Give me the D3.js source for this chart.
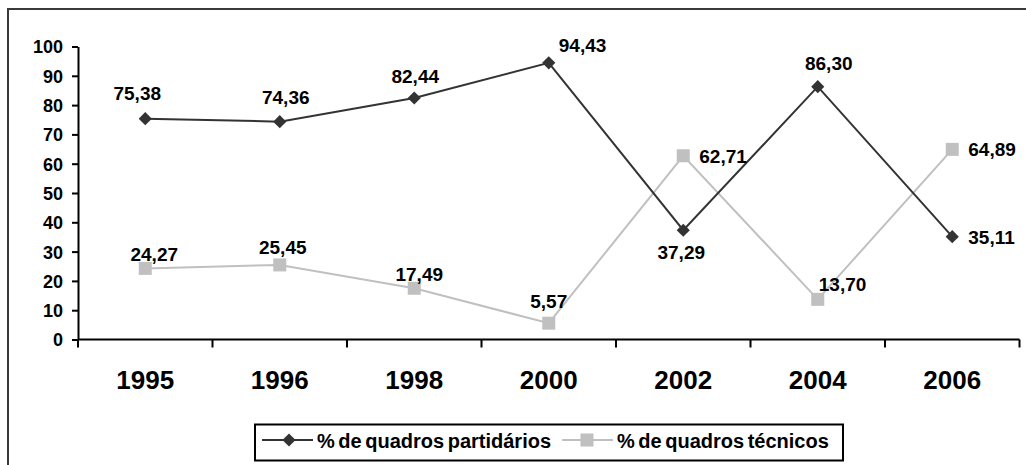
<!DOCTYPE html>
<html lang="pt">
<head>
    <meta charset="utf-8">
    <title>Quadros partidários e técnicos</title>
    <script type="text/javascript" src="https://d3js.org/d3.v7.min.js"></script>
    <style type="text/css">
        body { margin: 0; background: #fff; }
        svg text { font-family: "Liberation Sans", Arial, sans-serif; font-weight: bold; fill: #000; }
    </style>
</head>
<body>
<script type="text/javascript">

    // chart data
    var years = ["1995", "1996", "1998", "2000", "2002", "2004", "2006"];
    var partidarios = [75.38, 74.36, 82.44, 94.43, 37.29, 86.30, 35.11];
    var tecnicos = [24.27, 25.45, 17.49, 5.57, 62.71, 13.70, 64.89];
    var yTicks = [0, 10, 20, 30, 40, 50, 60, 70, 80, 90, 100];
    var seriesNames = ["% de quadros partidários", "% de quadros técnicos"];

    // where each value label sits relative to its point: [dx, dy, anchor]
    var partLabelPos = [[-8, -19, "middle"], [6, -18, "middle"], [1, -15, "middle"], [10, -11, "start"],
                        [-2, 29, "middle"], [11, -17, "middle"], [16, 7, "start"]];
    var tecLabelPos = [[9, -7, "middle"], [3, -11, "middle"], [5, -7, "middle"], [0, -15, "middle"],
                       [16, 7, "start"], [1, -8, "start"], [16, 7, "start"]];

    var width = 1026, height = 465;
    var dark = "#333333", light = "#c0c0c0";

    var svg = d3.select("body").append("svg")
        .attr("width", width)
        .attr("height", height);

    // outer frame (right and bottom run off the picture)
    svg.append("rect")
        .attr("x", 8).attr("y", 9)
        .attr("width", 1040).attr("height", 480)
        .attr("fill", "none")
        .attr("stroke", "#3a3a3a")
        .attr("stroke-width", 2);

    var x = d3.scaleBand().domain(years).range([78, 1019.5]).padding(0);
    var y = d3.scaleLinear().domain([0, 100]).range([339.5, 46.5]);
    var cx = function(i) { return x(years[i]) + x.bandwidth() / 2; };

    // y axis
    var yAxis = svg.append("g")
        .attr("transform", "translate(78,0)")
        .call(d3.axisLeft(y).tickValues(yTicks).tickSize(6).tickSizeOuter(0).tickPadding(9));
    yAxis.selectAll("path, line").attr("stroke", "#000").attr("stroke-width", 2);
    yAxis.selectAll("text").style("font-size", "18px").attr("dy", "0.36em");

    // x axis: ticks at category boundaries
    var bounds = years.map(function(d) { return x(d); }).concat([x.range()[1]]);
    var xAxis = svg.append("g");
    xAxis.append("line")
        .attr("x1", x.range()[0]).attr("x2", x.range()[1])
        .attr("y1", y(0)).attr("y2", y(0))
        .attr("stroke", "#000").attr("stroke-width", 2);
    xAxis.selectAll(".tick")
        .data(bounds)
        .enter().append("line")
        .attr("x1", function(d) { return d; }).attr("x2", function(d) { return d; })
        .attr("y1", y(0)).attr("y2", y(0) + 8)
        .attr("stroke", "#000").attr("stroke-width", 2);
    xAxis.selectAll(".yr")
        .data(years)
        .enter().append("text")
        .attr("x", function(d) { return x(d) + x.bandwidth() / 2; })
        .attr("y", 389)
        .attr("text-anchor", "middle")
        .style("font-size", "26px")
        .text(function(d) { return d; });

    var line = d3.line()
        .x(function(d, i) { return cx(i); })
        .y(function(d) { return y(d); });

    function fmt(v) { return v.toFixed(2).replace(".", ","); }

    // técnicos (drawn first, beneath)
    svg.append("path")
        .datum(tecnicos)
        .attr("d", line)
        .attr("fill", "none")
        .attr("stroke", light)
        .attr("stroke-width", 2);
    svg.selectAll(".sq")
        .data(tecnicos)
        .enter().append("rect")
        .attr("x", function(d, i) { return cx(i) - 6.5; })
        .attr("y", function(d) { return y(d) - 6.5; })
        .attr("width", 13).attr("height", 13)
        .attr("fill", light);

    // partidários
    svg.append("path")
        .datum(partidarios)
        .attr("d", line)
        .attr("fill", "none")
        .attr("stroke", dark)
        .attr("stroke-width", 2);
    var diamond = d3.symbol().type(d3.symbolDiamond2).size(110);
    svg.selectAll(".dm")
        .data(partidarios)
        .enter().append("path")
        .attr("d", diamond)
        .attr("transform", function(d, i) { return "translate(" + cx(i) + "," + y(d) + ")"; })
        .attr("fill", dark);

    // value labels
    function labels(values, pos) {
        svg.append("g").selectAll("text")
            .data(values)
            .enter().append("text")
            .attr("x", function(d, i) { return cx(i) + pos[i][0]; })
            .attr("y", function(d, i) { return y(d) + pos[i][1]; })
            .attr("text-anchor", function(d, i) { return pos[i][2]; })
            .style("font-size", "19px")
            .text(fmt);
    }
    labels(partidarios, partLabelPos);
    labels(tecnicos, tecLabelPos);

    // legend
    var legend = svg.append("g");
    legend.append("rect")
        .attr("x", 255).attr("y", 424.5)
        .attr("width", 588).attr("height", 36)
        .attr("fill", "#fff")
        .attr("stroke", "#000")
        .attr("stroke-width", 2);
    var legendItems = [
        { name: seriesNames[0], color: dark, x0: 262, type: "diamond" },
        { name: seriesNames[1], color: light, x0: 562, type: "square" }
    ];
    legendItems.forEach(function(it) {
        legend.append("line")
            .attr("x1", it.x0).attr("x2", it.x0 + 51)
            .attr("y1", 440).attr("y2", 440)
            .attr("stroke", it.color).attr("stroke-width", 2);
        if (it.type === "diamond") {
            legend.append("path")
                .attr("d", diamond)
                .attr("transform", "translate(" + (it.x0 + 27) + ",440)")
                .attr("fill", it.color);
        } else {
            legend.append("rect")
                .attr("x", it.x0 + 25 - 6.5).attr("y", 440 - 6.5)
                .attr("width", 13).attr("height", 13)
                .attr("fill", it.color);
        }
        legend.append("text")
            .attr("x", it.x0 + 55)
            .attr("y", 448)
            .style("font-size", "20px")
            .style("word-spacing", "-2px")
            .text(it.name);
    });

</script>
</body>
</html>
